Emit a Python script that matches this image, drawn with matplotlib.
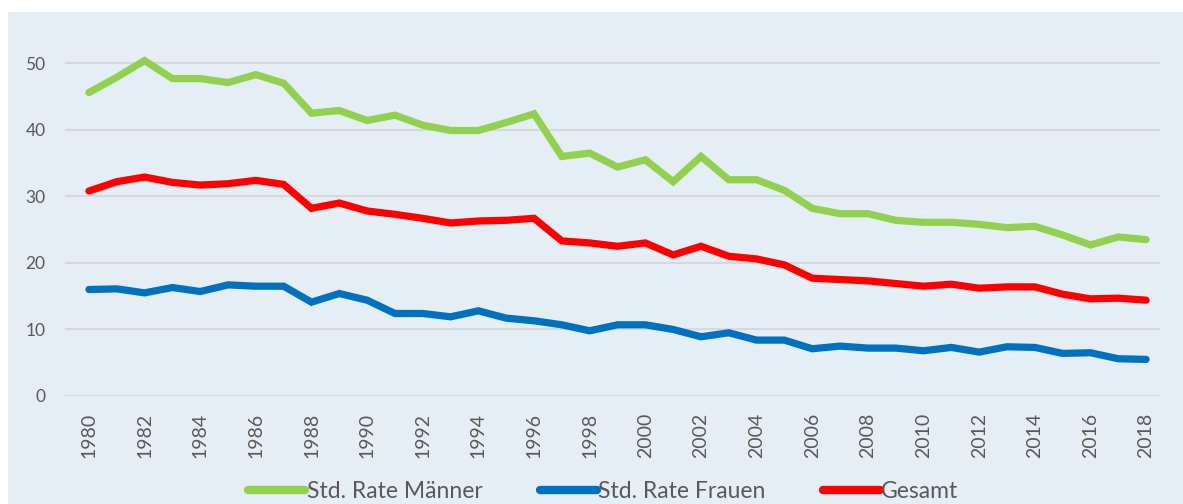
import matplotlib
matplotlib.use("Agg")
import matplotlib.pyplot as plt
from matplotlib.patches import Rectangle

years = list(range(1980, 2019))

maenner = [45.6, 47.9, 50.4, 47.7, 47.7, 47.1, 48.3, 47.0, 42.5, 42.9,
           41.4, 42.2, 40.7, 39.9, 39.9, 41.1, 42.4, 36.0, 36.5, 34.4,
           35.5, 32.2, 36.0, 32.5, 32.5, 30.9, 28.2, 27.4, 27.4, 26.4,
           26.1, 26.1, 25.8, 25.3, 25.5, 24.2, 22.7, 23.9, 23.5]

frauen = [16.0, 16.1, 15.5, 16.3, 15.7, 16.7, 16.5, 16.5, 14.1, 15.4,
          14.4, 12.4, 12.4, 11.9, 12.8, 11.7, 11.3, 10.7, 9.8, 10.7,
          10.7, 10.0, 8.9, 9.5, 8.4, 8.4, 7.1, 7.5, 7.2, 7.2,
          6.8, 7.3, 6.6, 7.4, 7.3, 6.4, 6.5, 5.6, 5.5]

gesamt = [30.8, 32.2, 32.9, 32.1, 31.7, 31.9, 32.4, 31.8, 28.2, 29.0,
          27.8, 27.3, 26.7, 26.0, 26.3, 26.4, 26.7, 23.3, 23.0, 22.5,
          23.0, 21.2, 22.5, 21.0, 20.6, 19.7, 17.7, 17.5, 17.3, 16.9,
          16.5, 16.8, 16.2, 16.4, 16.4, 15.3, 14.6, 14.7, 14.4]

labels = ["Std. Rate Männer", "Std. Rate Frauen", "Gesamt"]
colors = ["#92D050", "#0070C0", "#FF0000"]
text_col = "#595959"
bg = "#E5EEF4"

plt.rcParams["font.family"] = ["Lato", "DejaVu Sans"]

fig = plt.figure(figsize=(11.83, 5.04), dpi=100)
fig.patches.append(Rectangle((8 / 1183, 0), 1, 1 - 12 / 504, transform=fig.transFigure,
                             facecolor=bg, edgecolor="none", zorder=-10))

ax = fig.add_axes([65 / 1183, 1 - 396 / 504, (1160 - 65) / 1183, (396 - 30) / 504])
ax.set_facecolor("none")

for vals, lab, c in zip([maenner, frauen, gesamt], labels, colors):
    ax.plot(years, vals, color=c, lw=5.2, label=lab, solid_capstyle="round",
            solid_joinstyle="miter")

ax.set_ylim(0, 55)
ax.set_xlim(1979.14, 2018.5)
ax.set_yticks([0, 10, 20, 30, 40, 50])
ax.set_xticks(years[::2])
ax.set_xticklabels([str(y) for y in years[::2]], rotation=90, fontsize=14, color=text_col)
ax.tick_params(axis="y", labelsize=12.5, labelcolor=text_col, length=0, pad=14)
ax.tick_params(axis="x", length=0, pad=12)
ax.grid(axis="y", color="#D6D9DC", lw=1.5)
ax.set_axisbelow(True)
for s in ax.spines.values():
    s.set_visible(False)

leg = fig.legend(loc="center", bbox_to_anchor=(0.51, 1 - 492 / 504), ncol=3,
                 frameon=False, fontsize=16.5, handlelength=2.5, handletextpad=0.05,
                 columnspacing=2.5, labelcolor=text_col)
for h in leg.get_lines():
    h.set_linewidth(6)

fig.savefig("out.png", dpi=100)
